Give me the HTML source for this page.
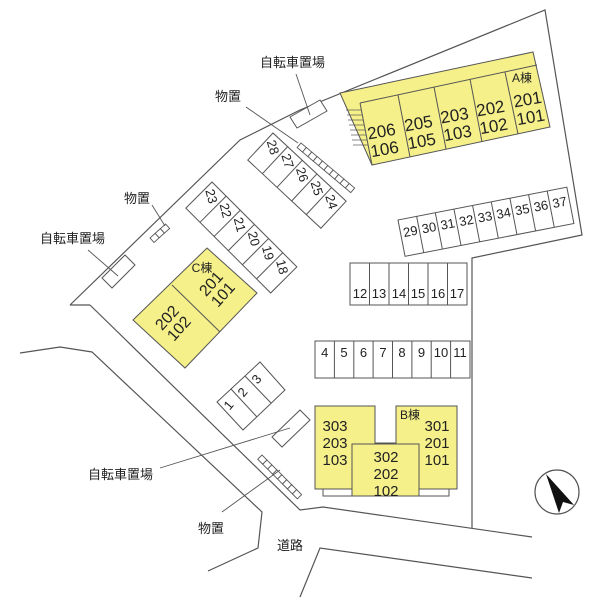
<!DOCTYPE html>
<html><head><meta charset="utf-8"><style>
body{margin:0;background:#fff}
svg{display:block}
text{font-family:"Liberation Sans","Noto Sans CJK JP",sans-serif;fill:#222}
</style></head><body>
<svg width="600" height="600" viewBox="0 0 600 600" xmlns="http://www.w3.org/2000/svg">
<g fill="none" stroke="#555" stroke-width="1.2">
<polyline points="70,305 90,305"/>
<polyline points="70,305 240,140 300,110 545,10 582,235 472,258 472,528"/>
<polyline points="90,305 300,510 323,507 532,537"/>
<polyline points="20,353 60,347 92,352 262,512 258,548 208,571"/>
<polyline points="300,597 320,548 532,578"/>
</g>
<g stroke="#555" stroke-width="1">
<polygon points="340,93 533,52 550,127 372,165" fill="#f5f08a"/>
<line x1="360" y1="103" x2="537" y2="65"/>
<line x1="360" y1="103" x2="372" y2="165"/>
<line x1="398" y1="95" x2="410" y2="157"/>
<line x1="434" y1="87" x2="446" y2="149"/>
<line x1="470" y1="79" x2="482" y2="142"/>
<line x1="505" y1="72" x2="518" y2="134"/>
<g stroke-width="0.7">
<line x1="346" y1="110" x2="361" y2="110"/><line x1="347" y1="115" x2="362" y2="115"/><line x1="348" y1="120" x2="363" y2="120"/><line x1="349" y1="125" x2="364" y2="125"/><line x1="350" y1="130" x2="365" y2="130"/><line x1="351" y1="135" x2="366" y2="135"/><line x1="352" y1="140" x2="367" y2="140"/><line x1="353" y1="145" x2="368" y2="145"/>
</g>
</g>
<g font-size="17" text-anchor="middle">
<g transform="rotate(-10 383 140)"><text x="383" y="137">206</text><text x="383" y="155">106</text></g>
<g transform="rotate(-10 420 132)"><text x="420" y="129">205</text><text x="420" y="147">105</text></g>
<g transform="rotate(-10 456 124)"><text x="456" y="121">203</text><text x="456" y="139">103</text></g>
<g transform="rotate(-10 492 117)"><text x="492" y="114">202</text><text x="492" y="132">102</text></g>
<g transform="rotate(-10 529 108)"><text x="529" y="105">201</text><text x="529" y="123">101</text></g>
<text x="522" y="82" font-size="12">A棟</text>
</g>
<g transform="translate(398,220) rotate(-11)" stroke="#555" fill="#fff" stroke-width="1" font-size="13">
<rect x="0" y="0" width="172" height="37"/>
<g stroke="#555"><line x1="19" y1="0" x2="19" y2="37"/><line x1="38" y1="0" x2="38" y2="37"/><line x1="57" y1="0" x2="57" y2="37"/><line x1="76" y1="0" x2="76" y2="37"/><line x1="95" y1="0" x2="95" y2="37"/><line x1="114" y1="0" x2="114" y2="37"/><line x1="133" y1="0" x2="133" y2="37"/><line x1="152" y1="0" x2="152" y2="37"/></g>
<g stroke="none" text-anchor="middle"><text x="10" y="18">29</text><text x="29" y="18">30</text><text x="48" y="18">31</text><text x="67" y="18">32</text><text x="86" y="18">33</text><text x="105" y="18">34</text><text x="124" y="18">35</text><text x="143" y="18">36</text><text x="162" y="18">37</text></g>
</g>
<g stroke="#555" fill="#fff" stroke-width="1" font-size="13">
<rect x="350" y="263" width="117" height="42"/>
<line x1="369.5" y1="263" x2="369.5" y2="305"/><line x1="389" y1="263" x2="389" y2="305"/><line x1="408.5" y1="263" x2="408.5" y2="305"/><line x1="428" y1="263" x2="428" y2="305"/><line x1="447.5" y1="263" x2="447.5" y2="305"/>
<g stroke="none" text-anchor="middle"><text x="360" y="298">12</text><text x="379" y="298">13</text><text x="399" y="298">14</text><text x="418" y="298">15</text><text x="438" y="298">16</text><text x="457" y="298">17</text></g>
</g>
<g stroke="#555" fill="#fff" stroke-width="1" font-size="13">
<rect x="315" y="341" width="155" height="37"/>
<line x1="334.4" y1="341" x2="334.4" y2="378"/><line x1="353.8" y1="341" x2="353.8" y2="378"/><line x1="373.1" y1="341" x2="373.1" y2="378"/><line x1="392.5" y1="341" x2="392.5" y2="378"/><line x1="411.9" y1="341" x2="411.9" y2="378"/><line x1="431.2" y1="341" x2="431.2" y2="378"/><line x1="450.6" y1="341" x2="450.6" y2="378"/>
<g stroke="none" text-anchor="middle"><text x="324.7" y="357">4</text><text x="344" y="357">5</text><text x="363.5" y="357">6</text><text x="383" y="357">7</text><text x="402" y="357">8</text><text x="421.5" y="357">9</text><text x="441" y="357">10</text><text x="460" y="357">11</text></g>
</g>
<g transform="translate(212,182) rotate(45)" stroke="#555" fill="#fff" stroke-width="1" font-size="13">
<rect x="0" y="0" width="120" height="37"/>
<line x1="20" y1="0" x2="20" y2="37"/><line x1="40" y1="0" x2="40" y2="37"/><line x1="60" y1="0" x2="60" y2="37"/><line x1="80" y1="0" x2="80" y2="37"/><line x1="100" y1="0" x2="100" y2="37"/>
<g stroke="none" text-anchor="middle">
<text transform="translate(10,10) rotate(30)" y="5">23</text><text transform="translate(30,10) rotate(30)" y="5">22</text><text transform="translate(50,10) rotate(30)" y="5">21</text><text transform="translate(70,10) rotate(30)" y="5">20</text><text transform="translate(90,10) rotate(30)" y="5">19</text><text transform="translate(110,10) rotate(30)" y="5">18</text></g>
</g>
<g transform="translate(273,133) rotate(43)" stroke="#555" fill="#fff" stroke-width="1" font-size="13">
<rect x="0" y="0" width="100" height="37"/>
<line x1="20" y1="0" x2="20" y2="37"/><line x1="40" y1="0" x2="40" y2="37"/><line x1="60" y1="0" x2="60" y2="37"/><line x1="80" y1="0" x2="80" y2="37"/>
<g stroke="none" text-anchor="middle">
<text transform="translate(10,10) rotate(30)" y="5">28</text><text transform="translate(30,10) rotate(30)" y="5">27</text><text transform="translate(50,10) rotate(30)" y="5">26</text><text transform="translate(70,10) rotate(30)" y="5">25</text><text transform="translate(90,10) rotate(30)" y="5">24</text></g>
</g>
<g stroke="#555" fill="#fff" stroke-width="1" font-size="13">
<polygon points="217,402 260,362 285,390 243,430"/>
<line x1="231" y1="389" x2="257" y2="417"/><line x1="245" y1="376" x2="271" y2="403"/>
<g stroke="none" text-anchor="middle"><text transform="translate(232,408) rotate(-50)">1</text><text transform="translate(246,395) rotate(-50)">2</text><text transform="translate(260,382) rotate(-50)">3</text></g>
</g>
<g stroke="#555" stroke-width="1">
<polygon points="207,248 257,293 185,368 133,320" fill="#f5f08a"/>
<line x1="172" y1="285" x2="220" y2="332"/>
</g>
<g font-size="16" text-anchor="middle">
<text x="202" y="272" font-size="12">C棟</text>
<g transform="rotate(-48 218 290)"><text x="218" y="286">201</text><text x="218" y="302">101</text></g>
<g transform="rotate(-48 174 324)"><text x="174" y="320">202</text><text x="174" y="336">102</text></g>
</g>
<g stroke="#555" stroke-width="1">
<polygon points="315,406 375,406 375,443 396,443 396,406 457,406 457,489 315,489" fill="#f5f08a"/>
<rect x="352" y="444" width="67" height="52" fill="#f5f08a"/>
<polyline points="323,489 323,496 352,496" fill="none"/>
<polyline points="419,496 449,496 449,489" fill="none"/>
</g>
<g font-size="15" text-anchor="middle">
<text x="335" y="431">303</text><text x="335" y="448">203</text><text x="335" y="465">103</text>
<text x="437" y="431">301</text><text x="437" y="448">201</text><text x="437" y="465">101</text>
<text x="386" y="462">302</text><text x="386" y="479">202</text><text x="386" y="496">102</text>
<text x="410" y="419" font-size="12">B棟</text>
</g>
<g stroke="#555" fill="#fff" stroke-width="1">
<polygon points="290,117 320,100 327,111 297,128"/>
<polygon points="102,278 125,255 135,265 112,288"/>
<polygon points="272,437 300,410 310,420 282,447"/>
</g>
<g stroke="#555" fill="#fff" stroke-width="0.9">
<g transform="translate(301,143) rotate(40)"><rect x="0" y="0" width="7" height="6"/><rect x="7" y="0" width="7" height="6"/><rect x="14" y="0" width="7" height="6"/><rect x="21" y="0" width="7" height="6"/><rect x="28" y="0" width="7" height="6"/><rect x="35" y="0" width="7" height="6"/><rect x="42" y="0" width="7" height="6"/><rect x="49" y="0" width="7" height="6"/><rect x="56" y="0" width="7" height="6"/><rect x="63" y="0" width="7" height="6"/></g>
<g transform="translate(150,238) rotate(-42)"><rect x="0" y="0" width="7" height="6"/><rect x="7" y="0" width="7" height="6"/><rect x="14" y="0" width="7" height="6"/></g>
<g transform="translate(262,455) rotate(45)"><rect x="0" y="0" width="7" height="6"/><rect x="7" y="0" width="7" height="6"/><rect x="14" y="0" width="7" height="6"/><rect x="21" y="0" width="7" height="6"/><rect x="28" y="0" width="7" height="6"/><rect x="35" y="0" width="7" height="6"/><rect x="42" y="0" width="7" height="6"/><rect x="49" y="0" width="7" height="6"/></g>
</g>
<g stroke="#555" stroke-width="0.9" fill="none">
<line x1="296" y1="74" x2="310" y2="115"/>
<line x1="246" y1="107" x2="298" y2="143"/>
<line x1="152" y1="205" x2="165" y2="226"/>
<line x1="88" y1="250" x2="118" y2="276"/>
<line x1="160" y1="468" x2="290" y2="428"/>
<line x1="222" y1="512" x2="280" y2="470"/>
</g>
<g font-size="13">
<text x="260" y="67">自転車置場</text>
<text x="215" y="101">物置</text>
<text x="124" y="203">物置</text>
<text x="40" y="243">自転車置場</text>
<text x="88" y="479">自転車置場</text>
<text x="198" y="533">物置</text>
<text x="277" y="550">道路</text>
</g>
<circle cx="557" cy="492" r="22" fill="#fff" stroke="#555" stroke-width="1.2"/>
<polygon points="546,474 574,505 563,502 559,513" fill="#111"/>
</svg>
</body></html>
